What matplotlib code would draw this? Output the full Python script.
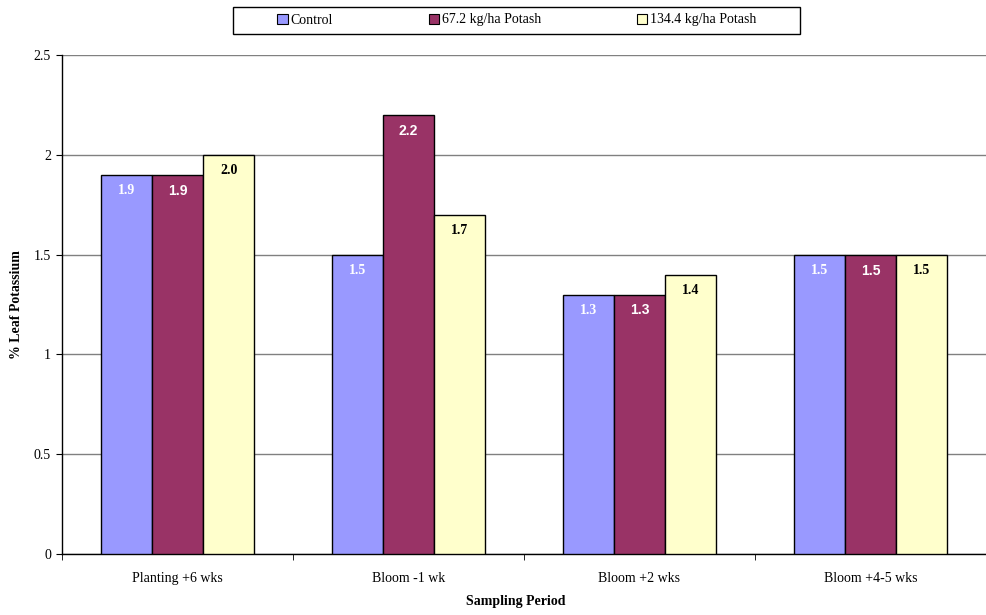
import matplotlib.pyplot as plt
import numpy as np
from matplotlib.patches import Patch, Rectangle

periods = ['Planting +6 wks', 'Bloom -1 wk', 'Bloom +2 wks', 'Bloom +4-5 wks']
series_names = ['Control', '67.2 kg/ha Potash', '134.4 kg/ha Potash']
control = [1.9, 1.5, 1.3, 1.5]
potash_67 = [1.9, 2.2, 1.3, 1.5]
potash_134 = [2.0, 1.7, 1.4, 1.5]
y_ticks = [0, 0.5, 1, 1.5, 2, 2.5]

colors = ['#9999FF', '#993366', '#FFFFCC']
label_colors = ['white', 'white', 'black']
label_fonts = ['Liberation Serif', 'Liberation Sans', 'Liberation Serif']

plt.rcParams['font.family'] = ['Liberation Serif', 'DejaVu Serif']

fig = plt.figure(figsize=(9.87, 6.15), dpi=100)
ax = fig.add_axes([62 / 987, 61 / 615, 924 / 987, 499 / 615])

x = np.arange(len(periods))
w = 0.222
all_series = [control, potash_67, potash_134]
for i, vals in enumerate(all_series):
    bars = ax.bar(x + (i - 1) * w, vals, w, color=colors[i], edgecolor='black',
                  linewidth=1.0, zorder=3, label=series_names[i])
    for b, v in zip(bars, vals):
        ax.annotate(f'{v:.1f}', (b.get_x() + b.get_width() / 2, v), xytext=(0, -11.5),
                    textcoords='offset points', ha='center', va='center', fontsize=10,
                    fontweight='bold', color=label_colors[i], family=label_fonts[i], zorder=4)

ax.set_xlim(-0.5, len(periods) - 0.5)
ax.set_ylim(0, 2.5)
ax.set_yticks(y_ticks)
ax.set_yticklabels([f'{t:g}' for t in y_ticks], fontsize=10)
ax.yaxis.grid(True, color='#808080', linewidth=1.0, zorder=0)
ax.set_xticks(x)
ax.set_xticklabels(periods, fontsize=10)
ax.set_xticks(np.arange(len(periods) + 1) - 0.5, minor=True)
ax.tick_params(axis='x', which='major', length=0, pad=13)
ax.tick_params(axis='x', which='minor', length=4, direction='out')
ax.tick_params(axis='y', length=4, direction='out', pad=4)

for side in ['top', 'right']:
    ax.spines[side].set_visible(False)
ax.spines['left'].set_linewidth(1.0)
ax.spines['bottom'].set_linewidth(1.0)

fig.text(17 / 987, 1 - 305 / 615, '% Leaf Potassium', rotation=90, ha='center', va='center',
         fontsize=10, fontweight='bold')
fig.text(516 / 987, 1 - 602 / 615, 'Sampling Period', ha='center', va='center',
         fontsize=10, fontweight='bold')

# legend entries without matplotlib's frame; the box is drawn separately
handles = [Patch(facecolor=c, edgecolor='black', linewidth=0.8) for c in colors]
fig.legend(handles, series_names, loc='center', bbox_to_anchor=(517 / 987, 1 - 20 / 615),
           ncol=3, fontsize=10, frameon=False,
           handlelength=0.75, handleheight=0.75, handletextpad=0.2, columnspacing=6.9,
           borderpad=0, borderaxespad=0)
fig.patches.append(Rectangle((233 / 987, 1 - 34 / 615), 567 / 987, 27 / 615,
                             transform=fig.transFigure, fill=False, edgecolor='black',
                             linewidth=1.0))

fig.savefig('out.png', dpi=100)
